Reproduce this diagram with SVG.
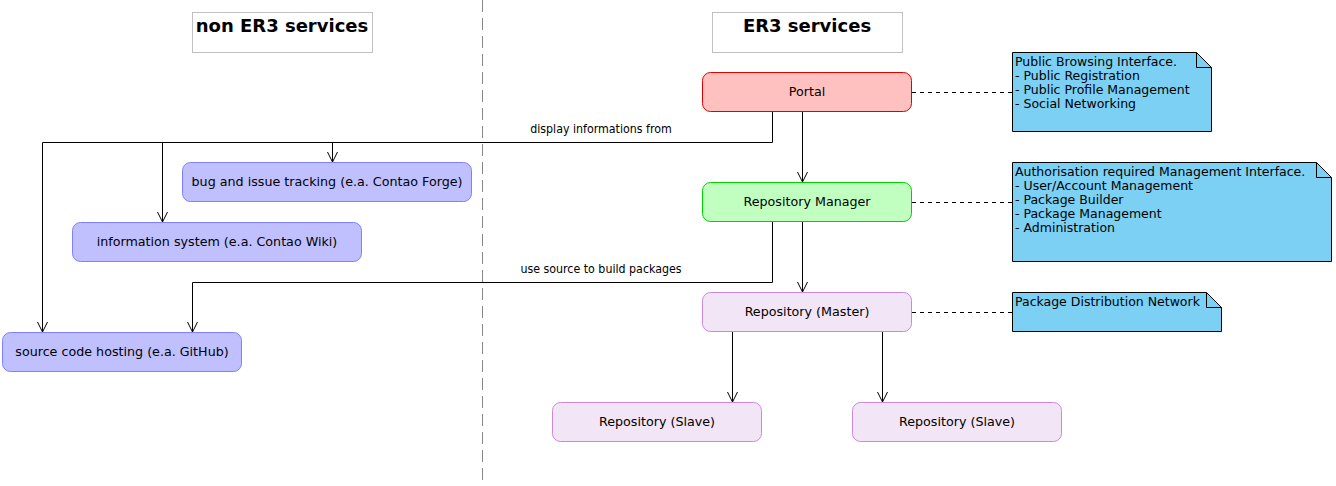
<svg xmlns="http://www.w3.org/2000/svg" width="1336" height="486" viewBox="0 0 1336 486">
<defs>
<style>
.t{font-family:"DejaVu Sans",sans-serif;font-size:12.5px;fill:#000}
.n{font-family:"DejaVu Sans",sans-serif;font-size:12.7px;fill:#000;text-anchor:middle}
.h{font-family:"DejaVu Sans",sans-serif;font-size:18px;font-weight:bold;fill:#000;text-anchor:middle}
.l{font-family:"DejaVu Sans Condensed","DejaVu Sans",sans-serif;font-size:12.3px;fill:#000;text-anchor:middle}
.ext{fill:#C0C0FF;stroke:#8080FF;stroke-width:1}
.er{fill:#F2E5F6;stroke:#CC88E0;stroke-width:1}
.note{fill:#7BD0F4;stroke:#000;stroke-width:1}
.ln{fill:none;stroke:#000;stroke-width:1}
.dl{fill:none;stroke:#000;stroke-width:1;stroke-dasharray:4,4}
</style>
<marker id="arr" viewBox="0 0 12 12" refX="11" refY="6" markerWidth="12" markerHeight="12" markerUnits="userSpaceOnUse" orient="auto">
<path d="M1,1 L11,6 L1,11" fill="none" stroke="#000" stroke-width="1"/>
</marker>
</defs>
<rect width="1336" height="486" fill="#fff"/>
<line x1="482.5" y1="0" x2="482.5" y2="480" stroke="#888" stroke-width="1" stroke-dasharray="12,6"/>
<g id="title-non-er3">
<rect x="192.5" y="12.5" width="180" height="40" fill="#fff" stroke="#c0c0c0"/>
<text class="h" x="282" y="32">non ER3 services</text>
</g>
<g id="title-er3">
<rect x="712.5" y="12.5" width="190" height="40" fill="#fff" stroke="#c0c0c0"/>
<text class="h" x="807" y="32">ER3 services</text>
</g>
<g id="connectors">
<path class="ln" d="M802.5,112 V182" marker-end="url(#arr)"/>
<path class="ln" d="M772.5,112 V142.5 H42.5 V332" marker-end="url(#arr)"/>
<path class="ln" d="M332.5,142.5 V162" marker-end="url(#arr)"/>
<path class="ln" d="M162.5,142.5 V222" marker-end="url(#arr)"/>
<text class="l" x="601" y="133">display informations from</text>
<path class="ln" d="M802.5,222 V292" marker-end="url(#arr)"/>
<path class="ln" d="M772.5,222 V282.5 H192.5 V332" marker-end="url(#arr)"/>
<text class="l" x="601" y="273">use source to build packages</text>
<path class="ln" d="M732.5,332 V402" marker-end="url(#arr)"/>
<path class="ln" d="M882.5,332 V402" marker-end="url(#arr)"/>
<path class="dl" d="M912,92.5 H1012"/>
<path class="dl" d="M912,202.5 H1012"/>
<path class="dl" d="M912,312.5 H1012"/>
</g>
<g id="portal">
<rect x="702.5" y="72.5" width="209" height="39" rx="8" fill="#FFC0C0" stroke="#E00000"/>
<text class="n" x="807" y="96">Portal</text>
</g>
<g id="repository-manager">
<rect x="702.5" y="182.5" width="209" height="39" rx="8" fill="#C0FFC0" stroke="#00D000"/>
<text class="n" x="807" y="206">Repository Manager</text>
</g>
<g id="repository-master">
<rect class="er" x="702.5" y="292.5" width="209" height="39" rx="8"/>
<text class="n" x="807" y="316">Repository (Master)</text>
</g>
<g id="repository-slave-1">
<rect class="er" x="552.5" y="402.5" width="209" height="39" rx="8"/>
<text class="n" x="657" y="426">Repository (Slave)</text>
</g>
<g id="repository-slave-2">
<rect class="er" x="852.5" y="402.5" width="209" height="39" rx="8"/>
<text class="n" x="957" y="426">Repository (Slave)</text>
</g>
<g id="bug-tracking">
<rect class="ext" x="182.5" y="162.5" width="289" height="39" rx="8"/>
<text class="n" x="327" y="186">bug and issue tracking (e.a. Contao Forge)</text>
</g>
<g id="information-system">
<rect class="ext" x="72.5" y="222.5" width="289" height="39" rx="8"/>
<text class="n" x="217" y="246">information system (e.a. Contao Wiki)</text>
</g>
<g id="source-code-hosting">
<rect class="ext" x="2.5" y="332.5" width="239" height="39" rx="8"/>
<text class="n" x="122" y="356">source code hosting (e.a. GitHub)</text>
</g>
<g id="note-portal">
<path class="note" d="M1012.5,52.5 H1196.5 L1211.5,67.5 V131.5 H1012.5 Z"/>
<path class="ln" d="M1196.5,52.5 V67.5 H1211.5"/>
<text class="t" x="1015" y="66">Public Browsing Interface.</text>
<text class="t" x="1015" y="80">- Public Registration</text>
<text class="t" x="1015" y="94">- Public Profile Management</text>
<text class="t" x="1015" y="108">- Social Networking</text>
</g>
<g id="note-manager">
<path class="note" d="M1012.5,162.5 H1316.5 L1331.5,177.5 V261.5 H1012.5 Z"/>
<path class="ln" d="M1316.5,162.5 V177.5 H1331.5"/>
<text class="t" x="1015" y="176">Authorisation required Management Interface.</text>
<text class="t" x="1015" y="190">- User/Account Management</text>
<text class="t" x="1015" y="204">- Package Builder</text>
<text class="t" x="1015" y="218">- Package Management</text>
<text class="t" x="1015" y="232">- Administration</text>
</g>
<g id="note-master">
<path class="note" d="M1012.5,292.5 H1206.5 L1221.5,307.5 V331.5 H1012.5 Z"/>
<path class="ln" d="M1206.5,292.5 V307.5 H1221.5"/>
<text class="t" x="1015" y="306">Package Distribution Network</text>
</g>
</svg>
